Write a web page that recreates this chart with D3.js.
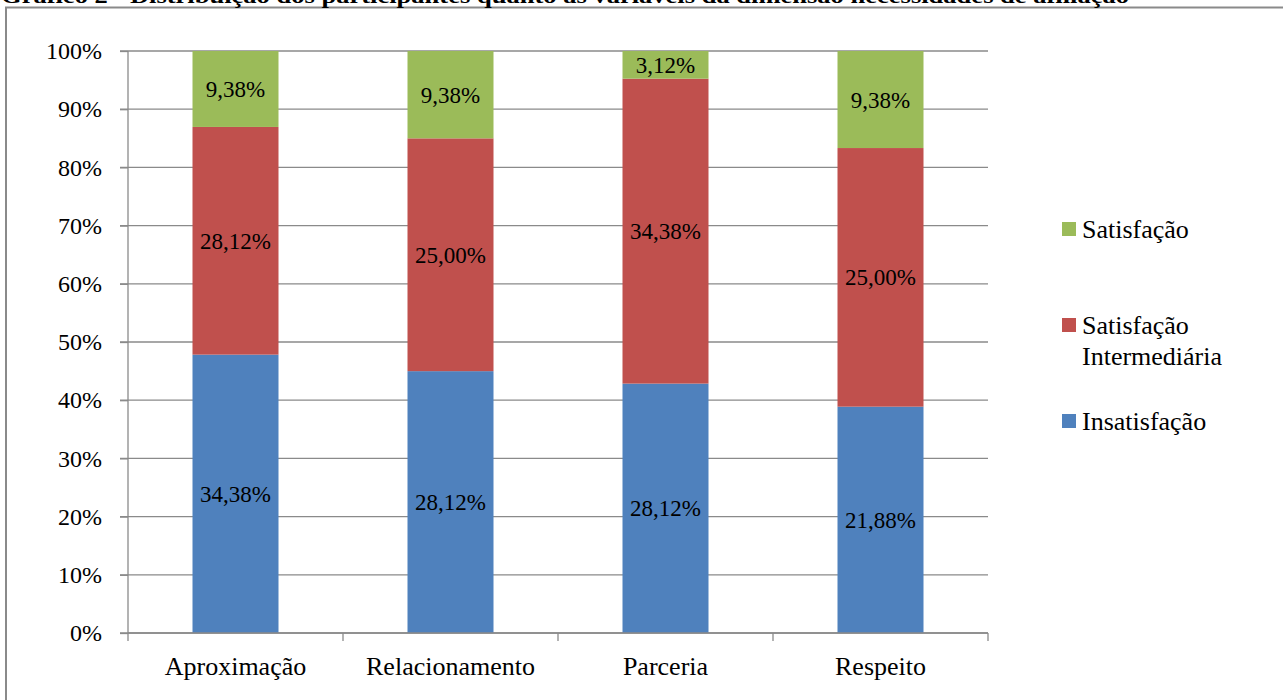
<!DOCTYPE html>
<html>
<head>
<meta charset="utf-8">
<script src="https://cdn.jsdelivr.net/npm/d3@7"></script>
<style>
  body { margin: 0; background: #fff; }
  text { font-family: "Liberation Serif", "Times New Roman", serif; }
</style>
</head>
<body>
<div id="chart"></div>
<script>
// categories and series (percent of participants, shown as 100% stacked)
var categories = ["Aproximação", "Relacionamento", "Parceria", "Respeito"];
var seriesNames = ["Insatisfação", "Satisfação Intermediária", "Satisfação"];
var insatisfacao = [34.38, 28.12, 28.12, 21.88];
var intermediaria = [28.12, 25.00, 34.38, 25.00];
var satisfacao = [9.38, 9.38, 3.12, 9.38];
var yTicks = [0, 0.1, 0.2, 0.3, 0.4, 0.5, 0.6, 0.7, 0.8, 0.9, 1];
var colors = ["#4F81BD", "#C0504D", "#9BBB59"];

var svgWidth = 1283, svgHeight = 700;
var margin = { top: 51, right: 295, bottom: 67, left: 128 };
var width = svgWidth - margin.left - margin.right;
var height = svgHeight - margin.top - margin.bottom;

var svg = d3.select("#chart").append("svg")
  .attr("width", svgWidth)
  .attr("height", svgHeight);

// frame and clipped title
svg.append("rect")
  .attr("x", 6).attr("y", 7.5)
  .attr("width", svgWidth + 10).attr("height", svgHeight + 10)
  .attr("fill", "none")
  .attr("stroke", "#8a8a8a")
  .attr("stroke-width", 2);

svg.append("text")
  .attr("x", 1).attr("y", 3)
  .attr("font-size", 22)
  .attr("font-weight", "bold")
  .attr("textLength", 1128)
  .attr("lengthAdjust", "spacingAndGlyphs")
  .text("Gráfico 2 - Distribuição dos participantes quanto às variáveis da dimensão necessidades de afiliação");

var data = categories.map(function(c, i) {
  return { cat: c, a: insatisfacao[i], b: intermediaria[i], c: satisfacao[i] };
});
var keys = ["a", "b", "c"];
var labels = [insatisfacao, intermediaria, satisfacao];

var stack = d3.stack().keys(keys).offset(d3.stackOffsetExpand);
var layers = stack(data);

var chartGroup = svg.append("g")
  .attr("transform", `translate(${margin.left}, ${margin.top})`);

var x = d3.scaleBand().domain(categories).range([0, width]).paddingInner(0.6).paddingOuter(0.3);
var y = d3.scaleLinear().domain([0, 1]).range([height, 0]);

// gridlines
chartGroup.selectAll(".grid")
  .data(yTicks)
  .enter().append("line")
  .attr("x1", -8).attr("x2", width)
  .attr("y1", d => y(d)).attr("y2", d => y(d))
  .attr("stroke", "#8a8a8a")
  .attr("stroke-width", 1.3);

// y axis
var leftAxis = d3.axisLeft(y).tickValues(yTicks).tickFormat(d3.format(".0%")).tickSize(8).tickPadding(18);
var yAxisG = chartGroup.append("g").call(leftAxis);
yAxisG.select(".domain").attr("stroke", "#8a8a8a").attr("stroke-width", 1.3).attr("d", `M0,0V${height}`);
yAxisG.selectAll(".tick line").attr("stroke", "#8a8a8a").attr("stroke-width", 1.3);
yAxisG.selectAll("text")
  .attr("font-size", 24)
  .attr("fill", "#000");

// bars
var layerG = chartGroup.selectAll(".layer")
  .data(layers)
  .enter().append("g")
  .attr("fill", (d, i) => colors[i]);

layerG.selectAll("rect")
  .data(d => d)
  .enter().append("rect")
  .attr("x", d => x(d.data.cat))
  .attr("y", d => y(d[1]))
  .attr("width", x.bandwidth())
  .attr("height", d => y(d[0]) - y(d[1]));

// data labels
layerG.each(function(layer, li) {
  d3.select(this).selectAll("text")
    .data(layer)
    .enter().append("text")
    .attr("x", d => x(d.data.cat) + x.bandwidth() / 2)
    .attr("y", d => (y(d[0]) + y(d[1])) / 2)
    .attr("dy", "0.35em")
    .attr("text-anchor", "middle")
    .attr("font-size", 23)
    .attr("fill", "#000")
    .text((d, i) => d3.format(".2f")(labels[li][i]).replace(".", ",") + "%");
});

// x axis
var step = x.step();
var bounds = d3.range(categories.length + 1).map(i => i * step);
chartGroup.append("line")
  .attr("x1", 0).attr("x2", width)
  .attr("y1", height).attr("y2", height)
  .attr("stroke", "#8a8a8a").attr("stroke-width", 1.3);
chartGroup.selectAll(".xtick")
  .data(bounds)
  .enter().append("line")
  .attr("x1", d => d).attr("x2", d => d)
  .attr("y1", height).attr("y2", height + 8)
  .attr("stroke", "#8a8a8a").attr("stroke-width", 1.3);
chartGroup.selectAll(".xlabel")
  .data(categories)
  .enter().append("text")
  .attr("x", d => x(d) + x.bandwidth() / 2)
  .attr("y", height + 33)
  .attr("dy", "0.35em")
  .attr("text-anchor", "middle")
  .attr("font-size", 26)
  .text(d => d);

// legend
var legendItems = [
  { name: ["Satisfação"], color: colors[2], y: 229 },
  { name: ["Satisfação", "Intermediária"], color: colors[1], y: 325 },
  { name: ["Insatisfação"], color: colors[0], y: 421 }
];
var legend = svg.selectAll(".legend")
  .data(legendItems)
  .enter().append("g")
  .attr("transform", d => `translate(1062, ${d.y})`);
legend.append("rect")
  .attr("x", 0).attr("y", -7)
  .attr("width", 14).attr("height", 14)
  .attr("fill", d => d.color);
legend.each(function(d) {
  d3.select(this).selectAll("text")
    .data(d.name)
    .enter().append("text")
    .attr("x", 20)
    .attr("y", (t, i) => i * 31)
    .attr("dy", "0.35em")
    .attr("font-size", 26)
    .text(t => t);
});
</script>
</body>
</html>
